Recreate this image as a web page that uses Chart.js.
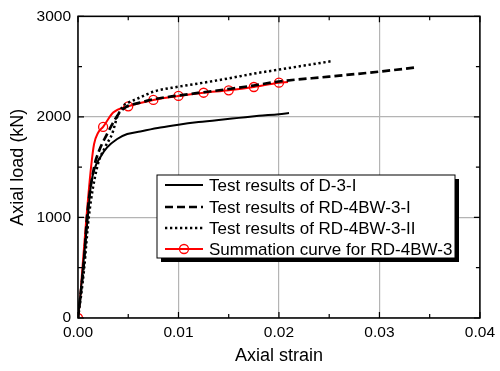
<!DOCTYPE html>
<html>
<head>
<meta charset="utf-8">
<script src="https://cdn.jsdelivr.net/npm/chart.js@4.4.1/dist/chart.umd.min.js"></script>
<style>
  html, body { margin: 0; padding: 0; background: #fff; }
</style>
</head>
<body>
<canvas id="myChart" width="500" height="371"></canvas>
<script>

// test curve D-3-I
var strainD3 = [0, 0.0002, 0.0005, 0.00097, 0.0013, 0.0017, 0.0022, 0.0029, 0.0039, 0.0049, 0.0062, 0.0082, 0.0100, 0.0120, 0.0140, 0.0160, 0.0180, 0.0200, 0.0210];
var loadD3 = [0, 190, 508, 1000, 1333, 1498, 1597, 1696, 1780, 1829, 1855, 1894, 1922, 1948, 1970, 1990, 2010, 2027, 2038];

// test curve RD-4BW-3-I
var strainRD1 = [0, 0.0003, 0.0006, 0.0009, 0.0016, 0.0021, 0.0029, 0.0036, 0.0042, 0.0048, 0.0055, 0.0065, 0.0075, 0.0100, 0.0125, 0.0150, 0.0175, 0.0200, 0.0250, 0.0300, 0.0335];
var loadRD1 = [0, 270, 560, 1000, 1498, 1663, 1830, 1960, 2050, 2100, 2125, 2150, 2175, 2212, 2245, 2277, 2312, 2352, 2400, 2450, 2490];

// test curve RD-4BW-3-II
var strainRD2 = [0, 0.0003, 0.0006, 0.00107, 0.0019, 0.0027, 0.0034, 0.0039, 0.0045, 0.0050, 0.0060, 0.0075, 0.0100, 0.0125, 0.0150, 0.0175, 0.0200, 0.0225, 0.0253];
var loadRD2 = [0, 220, 480, 1000, 1498, 1700, 1832, 1998, 2109, 2140, 2185, 2250, 2300, 2340, 2383, 2430, 2470, 2510, 2555];

// summation curve (markers only on some points)
var strainSum = [0, 0.0002, 0.00045, 0.00084, 0.0013, 0.0016, 0.0020, 0.0025, 0.0035, 0.0050, 0.0075, 0.0100, 0.0125, 0.0150, 0.0175, 0.0200, 0.0209];
var loadSum = [0, 180, 508, 1000, 1500, 1730, 1842, 1900, 2043, 2105, 2168, 2208, 2240, 2264, 2297, 2340, 2347];
var sumMarkers = [1, 0, 0, 0, 0, 0, 0, 1, 0, 1, 1, 1, 1, 1, 1, 1, 0];

var legendLabels = ["Test results of D-3-I", "Test results of RD-4BW-3-I", "Test results of RD-4BW-3-II", "Summation curve for RD-4BW-3"];

var FONT = "'Liberation Sans', Arial, sans-serif";

function toPoints(xs, ys) {
    var pts = [];
    for (var i = 0; i < xs.length; i++) {
        pts.push({ x: xs[i], y: ys[i] });
    }
    return pts;
}

// frame, inward ticks on all four sides, and the boxed legend with shadow
var framePlugin = {
    id: 'framePlugin',
    afterDatasetsDraw: function (chart) {
        var ctx = chart.ctx;
        var a = chart.chartArea;
        var xs = chart.scales.x, ys = chart.scales.y;
        ctx.save();
        ctx.strokeStyle = '#000';
        ctx.lineWidth = 1.5;
        ctx.strokeRect(a.left, a.top, a.right - a.left, a.bottom - a.top);

        ctx.lineWidth = 1.2;
        ctx.beginPath();
        for (var v = 0; v <= 0.04 + 1e-9; v += 0.005) {
            var px = xs.getPixelForValue(v);
            var major = Math.abs(v / 0.01 - Math.round(v / 0.01)) < 1e-6;
            var len = major ? 6 : 4;
            ctx.moveTo(px, a.bottom); ctx.lineTo(px, a.bottom - len);
            ctx.moveTo(px, a.top); ctx.lineTo(px, a.top + len);
        }
        for (var w = 0; w <= 3000; w += 500) {
            var py = ys.getPixelForValue(w);
            var len2 = (w % 1000 === 0) ? 6 : 4;
            ctx.moveTo(a.left, py); ctx.lineTo(a.left + len2, py);
            ctx.moveTo(a.right, py); ctx.lineTo(a.right - len2, py);
        }
        ctx.stroke();

        // legend
        var bx = 157, by = 175, bw = 298, bh = 83;
        ctx.fillStyle = '#000';
        ctx.fillRect(bx + 4, by + 4, bw, bh);
        ctx.fillStyle = '#fff';
        ctx.fillRect(bx, by, bw, bh);
        ctx.lineWidth = 1;
        ctx.strokeRect(bx, by, bw, bh);

        var rows = [185, 207, 228, 249];
        var x0 = 165, x1 = 203;
        for (var i = 0; i < 4; i++) {
            var ds = chart.data.datasets[i];
            ctx.beginPath();
            ctx.strokeStyle = ds.borderColor;
            ctx.lineWidth = ds.borderWidth;
            ctx.setLineDash(ds.borderDash || []);
            ctx.moveTo(x0, rows[i]);
            ctx.lineTo(x1, rows[i]);
            ctx.stroke();
            ctx.setLineDash([]);
            if (i === 3) {
                ctx.beginPath();
                ctx.lineWidth = 1.3;
                ctx.arc((x0 + x1) / 2, rows[i], 4.5, 0, Math.PI * 2);
                ctx.stroke();
            }
            ctx.fillStyle = '#000';
            ctx.font = '17px ' + FONT;
            ctx.textBaseline = 'middle';
            ctx.textAlign = 'left';
            ctx.fillText(legendLabels[i], 209, rows[i] + 1);
        }
        ctx.restore();
    }
};

var ctx = document.getElementById("myChart").getContext("2d");

var myChart = new Chart(ctx, {
    type: "line",
    data: {
        datasets: [
            {
                label: legendLabels[0],
                data: toPoints(strainD3, loadD3),
                borderColor: '#000',
                borderWidth: 2,
                pointRadius: 0,
                cubicInterpolationMode: 'monotone'
            },
            {
                label: legendLabels[1],
                data: toPoints(strainRD1, loadRD1),
                borderColor: '#000',
                borderWidth: 2.7,
                borderDash: [8, 4],
                pointRadius: 0,
                cubicInterpolationMode: 'monotone'
            },
            {
                label: legendLabels[2],
                data: toPoints(strainRD2, loadRD2),
                borderColor: '#000',
                borderWidth: 2.5,
                borderDash: [2.3, 2.7],
                pointRadius: 0,
                cubicInterpolationMode: 'monotone'
            },
            {
                label: legendLabels[3],
                data: toPoints(strainSum, loadSum),
                borderColor: '#ff0000',
                borderWidth: 2,
                pointRadius: sumMarkers.map(function (m) { return m ? 4.5 : 0; }),
                pointBorderWidth: 1.3,
                pointBorderColor: '#ff0000',
                pointBackgroundColor: 'rgba(0,0,0,0)',
                cubicInterpolationMode: 'monotone'
            }
        ]
    },
    options: {
        responsive: false,
        animation: false,
        layout: { padding: { top: 15, right: 18, left: 0, bottom: 0 } },
        plugins: {
            legend: { display: false },
            tooltip: { enabled: false }
        },
        scales: {
            x: {
                type: 'linear',
                min: 0,
                max: 0.04,
                afterFit: function (scale) { scale.height = 53; },
                border: { display: false },
                grid: {
                    drawTicks: false,
                    color: '#b4b4b4',
                    lineWidth: 1.2
                },
                ticks: {
                    stepSize: 0.01,
                    padding: 5,
                    color: '#000',
                    font: { family: FONT, size: 15.5 },
                    callback: function (v) { return v.toFixed(2); }
                },
                title: {
                    display: true,
                    text: 'Axial strain',
                    color: '#000',
                    font: { family: FONT, size: 18 },
                    padding: { top: 0, bottom: 4 }
                }
            },
            y: {
                min: 0,
                max: 3000,
                afterFit: function (scale) { scale.width = 78; },
                border: { display: false },
                grid: {
                    drawTicks: false,
                    color: '#b4b4b4',
                    lineWidth: 1.2
                },
                ticks: {
                    stepSize: 1000,
                    padding: 7,
                    color: '#000',
                    font: { family: FONT, size: 15.5 },
                    callback: function (v) { return String(v); }
                },
                title: {
                    display: true,
                    text: 'Axial load (kN)',
                    color: '#000',
                    font: { family: FONT, size: 18 },
                    padding: { top: 7, bottom: 0 }
                }
            }
        }
    },
    plugins: [framePlugin]
});

</script>
</body>
</html>
